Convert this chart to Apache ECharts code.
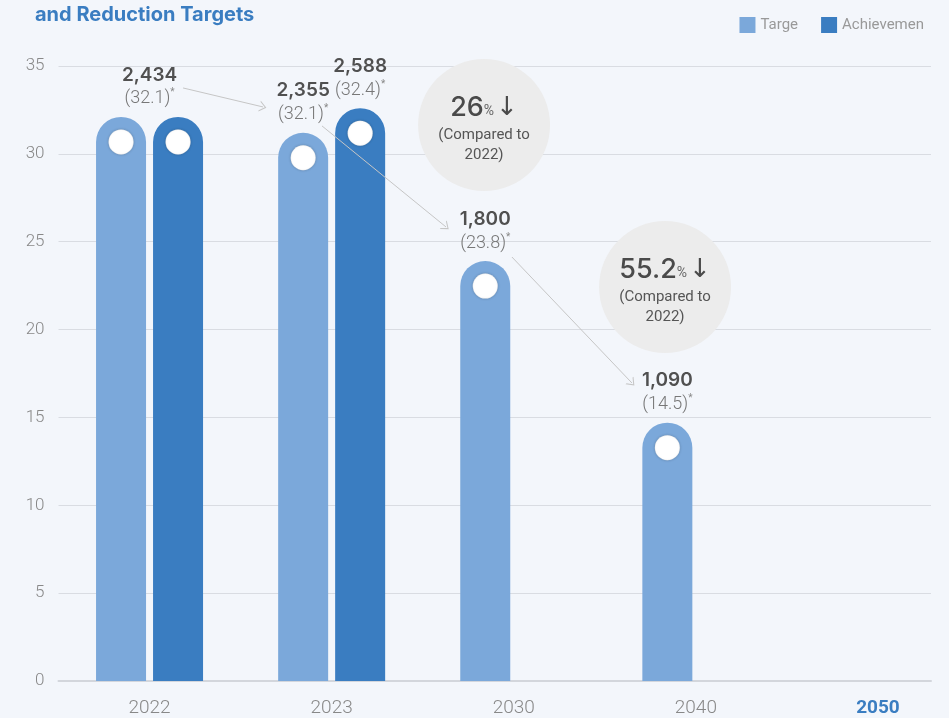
<!DOCTYPE html>
<html>
<head>
<meta charset="utf-8">
<script src="https://cdn.jsdelivr.net/npm/echarts@6/dist/echarts.min.js"></script>
<style>
  html, body { margin: 0; padding: 0; background: #f3f6fb; }
  #main { width: 949px; height: 718px; }
</style>
</head>
<body>
<div id="main"></div>
<script>
// values
const years = ['2022', '2023', '2030', '2040', '2050'];
const targetValues = [32.1, 31.2, 23.9, 14.7, null];
const achievementValues = [32.1, 32.6, null, null, null];
const targetEmissions = ['2,434', '2,355', '1,800', '1,090', ''];
const targetIntensity = ['32.1', '32.1', '23.8', '14.5', ''];
const achievementEmissions = ['', '2,588', '', '', ''];
const achievementIntensity = ['', '32.4', '', '', ''];
const reductionRates = ['26', '55.2'];

// annotation anchors (x in category units on a hidden value axis, y in axis units)
const reductionCircles = [[1.837, 31.64], [2.831, 22.42]];
const arrowLinks = [
  [[0.184, 33.75], [0.623, 32.67]],
  [[0.947, 31.59], [1.628, 25.84]],
  [[1.990, 24.13], [2.649, 16.96]]
];

const LIGHT = '#7ba8da';
const DARK = '#3a7dc1';
const chevron = 'path://M0,10 L5,0 L10,10 L8.8,10 L5,2.4 L1.2,10 Z';

function valueLabel(em, inten) {
  return '{v|' + em + '}\n{p|(' + inten + ')}{s|*}';
}

const labelRich = {
  v: { fontSize: 19, fontWeight: 600, color: '#505050', lineHeight: 24, fontFamily: 'Inter' },
  p: { fontSize: 18, fontWeight: 300, color: '#777', lineHeight: 24, fontFamily: 'Roboto' },
  s: { fontSize: 10, color: '#888', padding: [0, 0, 12, 0], fontFamily: 'Roboto' }
};

const targetData = years.map(function (y, i) {
  if (targetValues[i] == null) return null;
  // one label shared by both bars when there is no separate achievement figure
  const shared = achievementValues[i] != null && !achievementEmissions[i];
  return {
    value: targetValues[i],
    label: {
      show: true,
      offset: shared ? [28.5, 0] : [0, 0],
      formatter: valueLabel(targetEmissions[i], targetIntensity[i])
    }
  };
});

const achievementData = years.map(function (y, i) {
  if (achievementValues[i] == null) return null;
  return {
    value: achievementValues[i],
    label: {
      show: !!achievementEmissions[i],
      formatter: valueLabel(achievementEmissions[i], achievementIntensity[i])
    }
  };
});

const barLabel = { position: 'top', distance: 6, rich: labelRich };

const dotStyle = {
  color: '#fff',
  borderColor: '#bcbcbc',
  borderWidth: 3,
  shadowBlur: 3,
  shadowColor: 'rgba(0,0,0,0.2)'
};

var myChart = echarts.init(document.getElementById('main'));

myChart.setOption({
  backgroundColor: '#f3f6fb',
  animation: false,
  title: {
    text: 'and Reduction Targets',
    left: 30,
    top: 0,
    textStyle: { fontFamily: 'Inter', fontSize: 20, fontWeight: 'bold', color: DARK }
  },
  legend: {
    data: ['Targe', 'Achievemen'],
    right: 20,
    top: 12,
    itemWidth: 16,
    itemHeight: 16,
    itemGap: 23,
    icon: 'rect',
    textStyle: { fontFamily: 'Roboto', fontSize: 15, color: '#999' }
  },
  grid: [
    { left: 58.5, right: -20, top: 66, bottom: 37, outerBoundsMode: 'none' },
    { left: 58.5, right: 18, top: 66, bottom: 37, outerBoundsMode: 'none' }
  ],
  xAxis: [
    {
      type: 'category',
      gridIndex: 0,
      data: years,
      axisLine: { show: false },
      axisTick: { show: false },
      axisLabel: {
        margin: 18,
        fontSize: 19,
        fontWeight: 300,
        fontFamily: 'Roboto',
        color: '#888',
        formatter: function (v) { return v === '2050' ? '{hl|' + v + '}' : v; },
        rich: { hl: { fontSize: 19, fontWeight: 'bold', fontFamily: 'Roboto', color: DARK } }
      }
    },
    { type: 'value', gridIndex: 0, min: -0.5, max: 4.5, show: false },
    {
      type: 'value',
      gridIndex: 1,
      min: 0,
      max: 1,
      axisLine: { show: true, lineStyle: { color: '#d3d6dc', width: 2 } },
      axisTick: { show: false },
      axisLabel: { show: false },
      splitLine: { show: false }
    }
  ],
  yAxis: [
    {
      type: 'value',
      gridIndex: 0,
      min: 0,
      max: 35,
      interval: 5,
      axisLine: { show: false },
      axisTick: { show: false },
      splitLine: { show: false },
      axisLabel: { margin: 14, fontSize: 17, fontWeight: 300, fontFamily: 'Roboto', color: '#888' }
    },
    {
      type: 'value',
      gridIndex: 1,
      min: 0,
      max: 35,
      interval: 5,
      axisLine: { show: false },
      axisTick: { show: false },
      axisLabel: { show: false },
      splitLine: { lineStyle: { color: '#d9dce2', width: 1 } }
    }
  ],
  series: [
    {
      name: 'Targe',
      type: 'bar',
      xAxisIndex: 0,
      yAxisIndex: 0,
      barWidth: 50,
      barGap: '14%',
      data: targetData,
      itemStyle: { color: LIGHT, borderRadius: [25, 25, 0, 0] },
      label: barLabel,
      z: 2
    },
    {
      name: 'Achievemen',
      type: 'bar',
      xAxisIndex: 0,
      yAxisIndex: 0,
      barWidth: 50,
      barGap: '14%',
      data: achievementData,
      itemStyle: { color: DARK, borderRadius: [25, 25, 0, 0] },
      label: barLabel,
      z: 2
    },
    {
      name: 'Targe',
      type: 'pictorialBar',
      xAxisIndex: 0,
      yAxisIndex: 0,
      barWidth: 50,
      barGap: '14%',
      symbol: 'circle',
      symbolSize: 25,
      symbolPosition: 'end',
      symbolOffset: [0, 11],
      data: targetValues,
      itemStyle: dotStyle,
      silent: true,
      z: 4
    },
    {
      name: 'Achievemen',
      type: 'pictorialBar',
      xAxisIndex: 0,
      yAxisIndex: 0,
      barWidth: 50,
      barGap: '14%',
      symbol: 'circle',
      symbolSize: 25,
      symbolPosition: 'end',
      symbolOffset: [0, 11],
      data: achievementValues,
      itemStyle: dotStyle,
      silent: true,
      z: 4
    },
    {
      name: 'reduction',
      type: 'scatter',
      xAxisIndex: 1,
      yAxisIndex: 0,
      symbol: 'circle',
      symbolSize: 132,
      silent: true,
      z: 1,
      itemStyle: { color: '#ececec', opacity: 1 },
      data: reductionCircles.map(function (c, i) {
        return {
          value: c,
          label: {
            show: true,
            position: 'inside',
            offset: [0, 3],
            formatter: '{big|' + reductionRates[i] + '}{pct|%}{arr|↓}\n{sm|(Compared to}\n{sm|2022)}'
          }
        };
      }),
      label: {
        rich: {
          big: { fontSize: 27, fontWeight: 500, fontFamily: 'Inter', color: '#4a4a4a', lineHeight: 34 },
          pct: { fontSize: 14, fontFamily: 'Roboto', color: '#666', padding: [6, 2, 0, 0] },
          arr: { fontSize: 26, fontFamily: 'DejaVu Sans', color: '#4a4a4a' },
          sm: { fontSize: 15, fontFamily: 'Roboto', color: '#555', lineHeight: 20 }
        }
      },
      markLine: {
        silent: true,
        animation: false,
        symbol: ['none', chevron],
        symbolSize: [11, 7],
        label: { show: false },
        lineStyle: { color: '#c6c6c6', width: 1, type: 'solid' },
        data: arrowLinks.map(function (l) {
          return [{ coord: l[0] }, { coord: l[1] }];
        })
      }
    }
  ]
});
</script>
</body>
</html>
